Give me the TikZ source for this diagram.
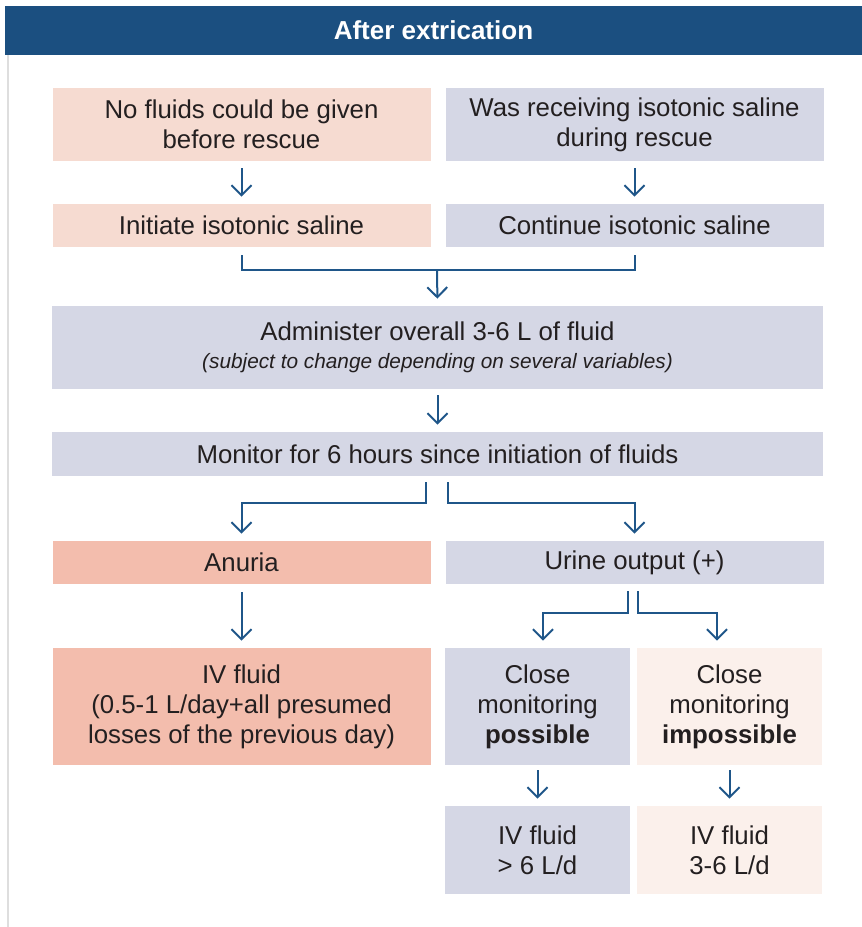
\documentclass[tikz,border=0pt]{standalone}
\usepackage{fontspec}
\setmainfont{Liberation Sans}
\usetikzlibrary{arrows.meta,positioning}
\definecolor{headblue}{HTML}{1B4F80}
\definecolor{flowblue}{HTML}{1F5689}
\definecolor{softpink}{HTML}{F6DBD1}
\definecolor{softgrey}{HTML}{D5D7E5}
\definecolor{salmon}{HTML}{F3BDAD}
\definecolor{paleshell}{HTML}{FBF0EB}
\definecolor{ink}{HTML}{231F20}

\begin{document}
\begin{tikzpicture}[x=0.5pt,y=-0.5pt,
  headbar/.style={fill=headblue,text=white,inner sep=0pt,minimum width=428.5pt,minimum height=24.5pt,font=\fontsize{13}{15}\selectfont\bfseries},
  box/.style={inner sep=0pt,align=center,text=ink,font=\fontsize{12.9}{15}\selectfont},
  half/.style={box,minimum width=189pt},
  full/.style={box,minimum width=385.5pt},
  narrow/.style={box,minimum width=92.5pt},
  flow/.style={-{Straight Barb[length=5pt,width=10pt]},draw=flowblue,line width=1pt,shorten >=3.5pt},
  link/.style={draw=flowblue,line width=1pt},
  frame/.style={draw=black!13,line width=1pt}
]
\useasboundingbox (0,0) rectangle (862,927);
\node[headbar] (title) at (433.5,30.5) {After extrication};
\draw[frame] ([xshift=1.5pt]title.south west) -- ++(0,872);

\node[half,fill=softpink,minimum height=36.5pt] (a1) at (241.5,124.5) {No fluids could be given\\before rescue};
\node[half,fill=softgrey,minimum height=36.5pt] (a2) at (634.5,124.5) {Was receiving isotonic saline\\during rescue};
\node[half,fill=softpink,minimum height=21.5pt] (b1) at (241.5,225.5) {Initiate isotonic saline};
\node[half,fill=softgrey,minimum height=21.5pt] (b2) at (634.5,225.5) {Continue isotonic saline};
\node[full,fill=softgrey,minimum height=41.5pt] (c) at (437.5,347.5) {Administer overall 3-6 L of fluid\\[-1pt]{\fontsize{10.4}{12}\selectfont\itshape (subject to change depending on several variables)}};
\node[full,fill=softgrey,minimum height=22pt] (d) at (437.5,454) {Monitor for 6 hours since initiation of fluids};
\node[half,fill=salmon,minimum height=21.5pt] (e1) at (241.5,562.5) {Anuria};
\node[half,fill=softgrey,minimum height=21.5pt] (e2) at (634.5,562.5) {Urine output (+)};
\node[half,fill=salmon,minimum height=58.5pt] (f1) at (241.5,706.5) {IV fluid\\(0.5-1 L/day+all presumed\\losses of the previous day)};
\node[narrow,fill=softgrey,minimum height=58.5pt] (f2) at (537.5,706.5) {Close\\monitoring\\\textbf{possible}};
\node[narrow,fill=paleshell,minimum height=58.5pt] (f3) at (729.5,706.5) {Close\\monitoring\\\textbf{impossible}};
\node[narrow,fill=softgrey,minimum height=44pt] (g1) at (537.5,850) {IV fluid\\> 6 L/d};
\node[narrow,fill=paleshell,minimum height=44pt] (g2) at (729.5,850) {IV fluid\\3-6 L/d};

% straight steps
\draw[flow] ([yshift=-3.5pt]a1.south) -- (b1.north);
\draw[flow] ([yshift=-3.5pt]a2.south) -- (b2.north);
\draw[flow] ([yshift=-3pt]c.south) -- (d.north);
\draw[flow] ([yshift=-4pt]e1.south) -- (f1.north);
\draw[flow] ([yshift=-2.5pt]f2.south) -- (g1.north);
\draw[flow] ([yshift=-2.5pt]f3.south) -- (g2.north);

% merge into c
\coordinate (merge) at (437,270);
\draw[link] ([yshift=-4pt]b1.south) |- (merge) -| ([yshift=-4pt]b2.south);
\draw[flow] (merge) -- (c.north);

% split after d
\coordinate (dl) at (426,503);
\coordinate (dr) at (448,503);
\draw[flow] (dl |- d.south) ++(0,6) -- (dl) -| (e1.north);
\draw[flow] (dr |- d.south) ++(0,6) -- (dr) -| (e2.north);

% split after e2
\coordinate (ul) at (628,613);
\coordinate (ur) at (638,613);
\coordinate (ul2) at (543,613);
\coordinate (ur2) at (717,613);
\draw[flow] (ul |- e2.south) ++(0,7) -- (ul) -- (ul2) -- (ul2 |- f2.north);
\draw[flow] (ur |- e2.south) ++(0,7) -- (ur) -- (ur2) -- (ur2 |- f3.north);
\end{tikzpicture}
\end{document}
